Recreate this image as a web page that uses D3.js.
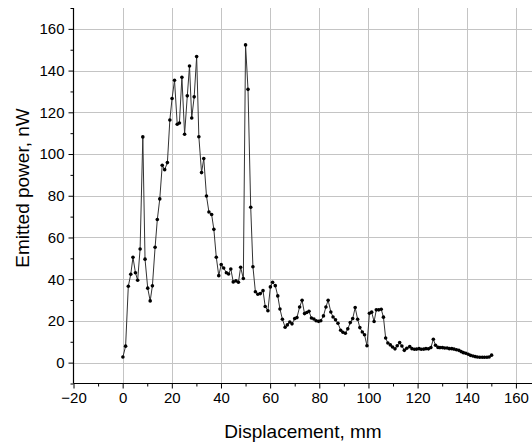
<!DOCTYPE html>
<html>
<head>
<meta charset="utf-8">
<script src="https://cdn.jsdelivr.net/npm/d3@7/dist/d3.min.js"></script>
<style>
  html, body { margin: 0; padding: 0; background: #fff; }
  svg { display: block; font-family: Arial, "Liberation Sans", sans-serif; }
</style>
</head>
<body>
<svg id="chart" width="532" height="444"></svg>
<script>
// ---- data ----
const displacement = [
  0.1, 1.2, 2.3, 3.3, 4.2, 5.2, 6.1, 7.1, 8.2, 9.1,
  10.2, 11.2, 12.1, 13.2, 14.1, 15.1, 16.1, 17.1, 18.2, 19.2,
  20.1, 21.1, 22.2, 23.1, 24.1, 25.2, 26.3, 27.2, 28.1, 29.1,
  30.1, 31.0, 32.1, 33.0, 34.1, 35.1, 36.2, 37.1, 38.1, 39.1,
  40.1, 41.1, 42.2, 43.1, 44.0, 45.0, 46.1, 47.1, 48.0, 49.1,
  50.0, 51.0, 52.1, 53.0, 54.0, 55.0, 56.0, 57.1, 58.0, 59.1,
  60.1, 61.0, 62.1, 63.1, 64.0, 65.0, 66.1, 67.0, 68.0, 68.9,
  70.0, 70.9, 72.0, 73.0, 74.0, 74.9, 75.8, 76.8, 77.8, 78.7,
  79.7, 80.6, 81.7, 82.7, 83.6, 84.7, 85.6, 86.6, 87.6, 88.7,
  89.6, 90.6, 91.6, 92.6, 93.6, 94.6, 95.6, 96.5, 97.5, 98.4,
  99.4, 100.4, 101.3, 102.3, 103.2, 104.2, 105.2, 106.1, 107.0, 107.9,
  108.9, 109.8, 110.8, 111.7, 112.7, 113.6, 114.6, 115.6, 116.8, 117.7,
  118.7, 119.6, 120.6, 121.5, 122.5, 123.4, 124.4, 125.4, 126.4, 127.3,
  128.3, 129.1, 130.1, 131.0, 132.0, 132.9, 133.9, 134.8, 135.8, 136.8,
  137.7, 138.6, 139.6, 140.6, 141.5, 142.5, 143.4, 144.3, 145.3, 146.3,
  147.2, 148.2, 149.1, 150.1
];
const power = [
  2.7, 7.9, 36.6, 42.4, 50.5, 43.1, 39.5, 54.5, 108.2, 49.6,
  35.7, 29.6, 36.8, 55.3, 68.6, 78.5, 94.6, 92.5, 95.9, 116.3,
  126.6, 135.4, 114.3, 114.9, 136.8, 109.5, 127.9, 142.2, 117.3, 127.4,
  146.7, 108.3, 91.1, 97.8, 79.9, 72.2, 71.0, 63.9, 50.5, 41.7,
  47.0, 45.4, 43.1, 42.5, 44.9, 38.7, 39.2, 38.5, 45.7, 40.3,
  152.3, 131.0, 74.5, 46.0, 34.0, 32.8, 33.1, 34.5, 26.9, 24.9,
  36.3, 38.5, 36.9, 32.0, 25.7, 20.8, 17.0, 18.1, 19.5, 18.6,
  21.1, 21.6, 26.7, 29.9, 23.5, 24.0, 24.6, 21.4, 20.9, 20.1,
  19.8, 20.1, 22.4, 26.7, 29.9, 24.3, 21.9, 20.5, 18.9, 15.5,
  14.6, 14.1, 16.2, 19.2, 21.1, 26.4, 20.8, 16.8, 14.7, 13.4,
  8.1, 23.7, 24.2, 19.7, 25.3, 25.3, 25.6, 21.8, 11.8, 9.4,
  8.5, 7.5, 6.6, 8.1, 9.6, 8.0, 5.9, 6.9, 7.7, 6.7,
  6.4, 6.5, 6.7, 6.4, 6.5, 6.7, 6.6, 7.2, 11.2, 8.3,
  7.3, 7.2, 7.2, 7.0, 7.0, 6.7, 6.7, 6.5, 6.2, 5.9,
  5.3, 4.8, 4.5, 4.0, 3.5, 3.2, 2.9, 2.7, 2.6, 2.6,
  2.6, 2.6, 2.7, 3.6
];
const xMajorTicks = [-20, 0, 20, 40, 60, 80, 100, 120, 140, 160];
const xMinorTicks = [-10, 10, 30, 50, 70, 90, 110, 130, 150, 170];
const yMajorTicks = [0, 20, 40, 60, 80, 100, 120, 140, 160];
const yMinorTicks = [-10, 10, 30, 50, 70, 90, 110, 130, 150, 170];
const xTitle = "Displacement, mm";
const yTitle = "Emitted power, nW";

// ---- layout ----
const svg = d3.select("#chart");
const x = d3.scaleLinear().domain([-20, 170]).range([73.5, 540.5]);
const y = d3.scaleLinear().domain([-10, 170]).range([383.5, 8]);
const left = x(-20), bottom = y(-10);

// grid
const grid = svg.append("g").attr("stroke", "#c4c4c4").attr("stroke-width", 1).attr("shape-rendering", "crispEdges");
grid.selectAll("line.v").data(xMajorTicks.filter(d => d > -20)).join("line")
  .attr("x1", d => Math.round(x(d)) + 0.5).attr("x2", d => Math.round(x(d)) + 0.5)
  .attr("y1", y(170)).attr("y2", bottom);
grid.selectAll("line.h").data(yMajorTicks).join("line")
  .attr("y1", d => Math.round(y(d)) + 0.5).attr("y2", d => Math.round(y(d)) + 0.5)
  .attr("x1", left).attr("x2", 532);

// axes
const xAxis = d3.axisBottom(x).tickValues(xMajorTicks).tickSize(5).tickPadding(4).tickFormat(d3.format("d"));
const xAxisMinor = d3.axisBottom(x).tickValues(xMinorTicks).tickSize(3).tickFormat("");
const yAxis = d3.axisLeft(y).tickValues(yMajorTicks).tickSize(5).tickPadding(4).tickFormat(d3.format("d"));
const yAxisMinor = d3.axisLeft(y).tickValues(yMinorTicks).tickSize(3).tickFormat("");

function styleAxis(g) {
  g.select(".domain").remove();
  g.selectAll("line").attr("stroke", "#000");
  g.selectAll("text").attr("fill", "#000").style("font-size", "15px")
    .style("font-family", "Arial, 'Liberation Sans', sans-serif");
}
svg.append("g").attr("transform", `translate(0,${bottom})`).call(xAxis).call(styleAxis);
svg.append("g").attr("transform", `translate(0,${bottom})`).call(xAxisMinor).call(styleAxis);
svg.append("g").attr("transform", `translate(${left},0)`).call(yAxis).call(styleAxis);
svg.append("g").attr("transform", `translate(${left},0)`).call(yAxisMinor).call(styleAxis);

// axis lines
svg.append("line").attr("x1", left).attr("x2", 532).attr("y1", bottom).attr("y2", bottom)
  .attr("stroke", "#000").attr("stroke-width", 1.2);
svg.append("line").attr("x1", left).attr("x2", left).attr("y1", y(170)).attr("y2", bottom)
  .attr("stroke", "#000").attr("stroke-width", 1.2);

// data line
const pts = displacement.map((d, i) => [d, power[i]]);
svg.append("path").datum(pts)
  .attr("fill", "none").attr("stroke", "#333").attr("stroke-width", 1)
  .attr("d", d3.line().x(d => x(d[0])).y(d => y(d[1])));
svg.append("g").selectAll("circle").data(pts).join("circle")
  .attr("cx", d => x(d[0])).attr("cy", d => y(d[1])).attr("r", 1.8).attr("fill", "#000");

// titles
svg.append("text").attr("x", 303).attr("y", 438).attr("text-anchor", "middle")
  .style("font-size", "19px").attr("fill", "#000").text(xTitle);
svg.append("text").attr("transform", "translate(29,188) rotate(-90)").attr("text-anchor", "middle")
  .style("font-size", "19px").attr("fill", "#000").text(yTitle);
</script>
</body>
</html>
